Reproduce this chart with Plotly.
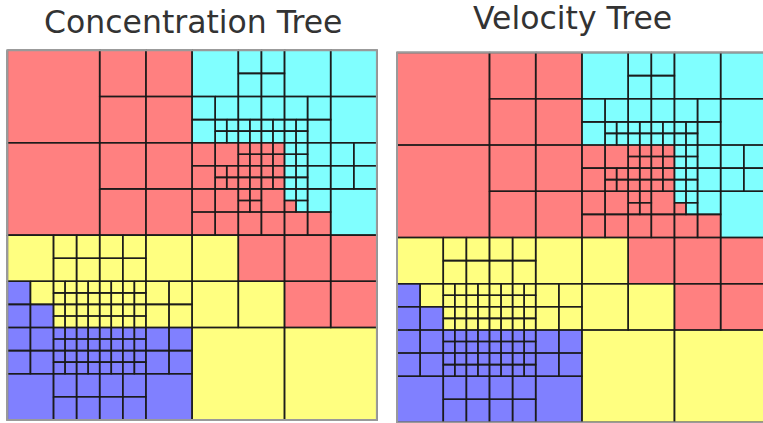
import plotly.graph_objects as go

# Quadtree leaves in prefix order: "+" splits a cell into NW, NE, SW, SE children,
# a letter is a leaf tagged with its region class.
# R = region 1, C = region 2, Y = region 3, B = region 4

# quadrant NW (cols 0-16, rows 0-16)
q_nw = "+R+RRRRR+RRRR"

# quadrant NE (cols 16-32, rows 0-16)
q_ne = ("+"
        + "+C+CCCC+CCC+CCCC+CC+CCCC+CCCC"
        + "+CC+CC+CCCCCC"
        + "+" + "+RRR+RRRR" + "++RRRR+RRRR+RRRR+RRRR" + "+RRRR" + "++RRRRRRR"
        + "+" + "++CCCCC+CCCCC" + "+CCCC" + "++CCRCCRR" + "C")

# quadrant SW (cols 0-16, rows 16-32)
q_sw = ("+"
        + "+Y+YYYY+BYBB++YYYY+YYYY+YYYY+YYYY"
        + "+" + "+YYYY" + "Y" + "++YYYY+YYYY+YYYY+YYYY" + "+YYYY"
        + "+" + "+BBBB" + "++BBBB+BBBB+BBBB+BBBB" + "B" + "+BBBB"
        + "+" + "++BBBB+BBBB+BBBB+BBBB" + "+BBBB" + "+BBBB" + "B")

# quadrant SE (cols 16-32, rows 16-32)
q_se = "+" + "+YRYY" + "+RRRR" + "Y" + "Y"

concentration_tree = "+" + q_nw + q_ne + q_sw + q_se
velocity_tree = "+" + q_nw + q_ne + q_sw + q_se

titles = ["Concentration Tree", "Velocity Tree"]
class_colors = {"R": "#ff8080", "C": "#80ffff", "Y": "#ffff80", "B": "#8080ff"}
GRID = 32


def decode(tree):
    leaves = []
    pos = 0

    def walk(x, y, size):
        nonlocal pos
        ch = tree[pos]
        pos += 1
        if ch == "+":
            h = size / 2
            walk(x, y, h)
            walk(x + h, y, h)
            walk(x, y + h, h)
            walk(x + h, y + h, h)
        else:
            leaves.append((x, y, size, ch))

    walk(0, 0, GRID)
    return leaves


W, H = 763, 423
# panel placement in pixels: left, top, cell size, visible box
panels = [
    dict(tree=concentration_tree, L=7.3, T=50.3, s=11.55, box=(4, 47, 381, 423)),
    dict(tree=velocity_tree, L=397.0, T=52.5, s=11.56, box=(394, 49, 763, 423)),
]

fig = go.Figure()

for i, p in enumerate(panels):
    ax = "" if i == 0 else str(i + 1)
    xr, yr = "x" + ax, "y" + ax
    leaves = decode(p["tree"])
    L, T, s = p["L"], p["T"], p["s"]
    bx0, by0, bx1, by1 = p["box"]

    # filled cells, one trace per class
    for cls, col in class_colors.items():
        xs, ys = [], []
        for (x, y, sz, c) in leaves:
            if c != cls:
                continue
            xs += [x, x + sz, x + sz, x, x, None]
            ys += [y, y, y + sz, y + sz, y, None]
        fig.add_trace(go.Scatter(x=xs, y=ys, xaxis=xr, yaxis=yr, mode="lines",
                                 fill="toself", fillcolor=col,
                                 line=dict(width=0, color=col),
                                 hoverinfo="skip", showlegend=False))

    # cell outlines
    xs, ys = [], []
    for (x, y, sz, c) in leaves:
        xs += [x, x + sz, x + sz, x, x, None]
        ys += [y, y, y + sz, y + sz, y, None]
    fig.add_trace(go.Scatter(x=xs, y=ys, xaxis=xr, yaxis=yr, mode="lines",
                             line=dict(width=1.6, color="rgba(25,25,25,0.85)"),
                             hoverinfo="skip", showlegend=False))

    # panel frame
    fig.add_shape(type="rect", xref=xr, yref=yr, x0=0, y0=0, x1=GRID, y1=GRID,
                  line=dict(color="#9a9a9a", width=2), fillcolor="rgba(0,0,0,0)")

    xdom = [bx0 / W, bx1 / W]
    ydom = [(H - by1) / H, (H - by0) / H]
    xrange = [(bx0 - L) / s, (bx1 - L) / s]
    yrange = [(by1 - T) / s, (by0 - T) / s]
    axis_common = dict(visible=False, showgrid=False, zeroline=False, fixedrange=True)
    fig.update_layout(**{
        "xaxis" + ax: dict(domain=xdom, range=xrange, anchor=yr, **axis_common),
        "yaxis" + ax: dict(domain=ydom, range=yrange, anchor=xr, **axis_common),
    })

# panel titles
title_pos = [(193, 22), (572.5, 18)]
for t, (tx, ty) in zip(titles, title_pos):
    fig.add_annotation(text=t, x=tx / W, y=1 - ty / H, xref="paper", yref="paper",
                       xanchor="center", yanchor="middle", showarrow=False,
                       font=dict(family="DejaVu Sans", size=31.5, color="#333333"))

fig.update_layout(width=W, height=H, margin=dict(l=0, r=0, t=0, b=0),
                  paper_bgcolor="white", plot_bgcolor="white",
                  autosize=False, hovermode=False)

fig.write_html("out.html")
